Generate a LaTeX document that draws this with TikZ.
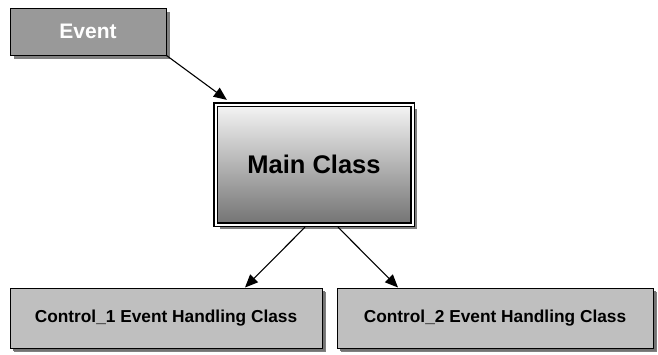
\documentclass[tikz,border=0pt]{standalone}
\usepackage{fontspec}
\setmainfont{Liberation Sans}
\usetikzlibrary{arrows.meta,shadows,calc}
\begin{document}
\begin{tikzpicture}[x=1pt,y=1pt,
  box/.style={draw=black, line width=1pt, inner sep=0pt, font=\bfseries,
    drop shadow={shadow xshift=4pt, shadow yshift=-4pt, fill=black!50, opacity=1}},
  evbox/.style={box, fill=black!40, text=white, minimum width=156pt, minimum height=47pt, font=\bfseries\fontsize{21}{24}\selectfont},
  mainbox/.style={box, line width=1.3pt, double, double distance=2pt, top color=black!4, bottom color=black!55,
    minimum width=197pt, minimum height=120pt, font=\bfseries\fontsize{25.5}{28}\selectfont},
  ctlbox/.style={box, fill=black!25, minimum height=60pt, font=\bfseries\fontsize{17.3}{20}\selectfont,
    drop shadow={shadow xshift=3pt, shadow yshift=-3pt, fill=black!55, opacity=1}},
  conn/.style={line width=1.1pt, -{Triangle[length=13pt,width=11pt]}}]
\useasboundingbox (0,0) rectangle (658,-354);
\node[evbox] (ev) at (88,-31.5) {Event};
\node[mainbox] (main) at (314,-164.5) {Main Class};
\node[ctlbox, minimum width=312pt] (c1) at (166,-318) {Control\_1 Event Handling Class};
\node[ctlbox, minimum width=316pt] (c2) at (495,-318) {Control\_2 Event Handling Class};
\coordinate (t0) at ($(main.north west)+(12pt,4pt)$);
\coordinate (s1) at ($(main.south)+(-9pt,-2pt)$);
\coordinate (t1) at ($(c1.north)+(79pt,0pt)$);
\coordinate (s2) at ($(main.south)+(24pt,-2pt)$);
\coordinate (t2) at ($(c2.north)+(-97pt,0pt)$);
\draw[conn] (ev.south east) -- (t0);
\draw[conn] (s1) -- (t1);
\draw[conn] (s2) -- (t2);
\end{tikzpicture}
\end{document}
